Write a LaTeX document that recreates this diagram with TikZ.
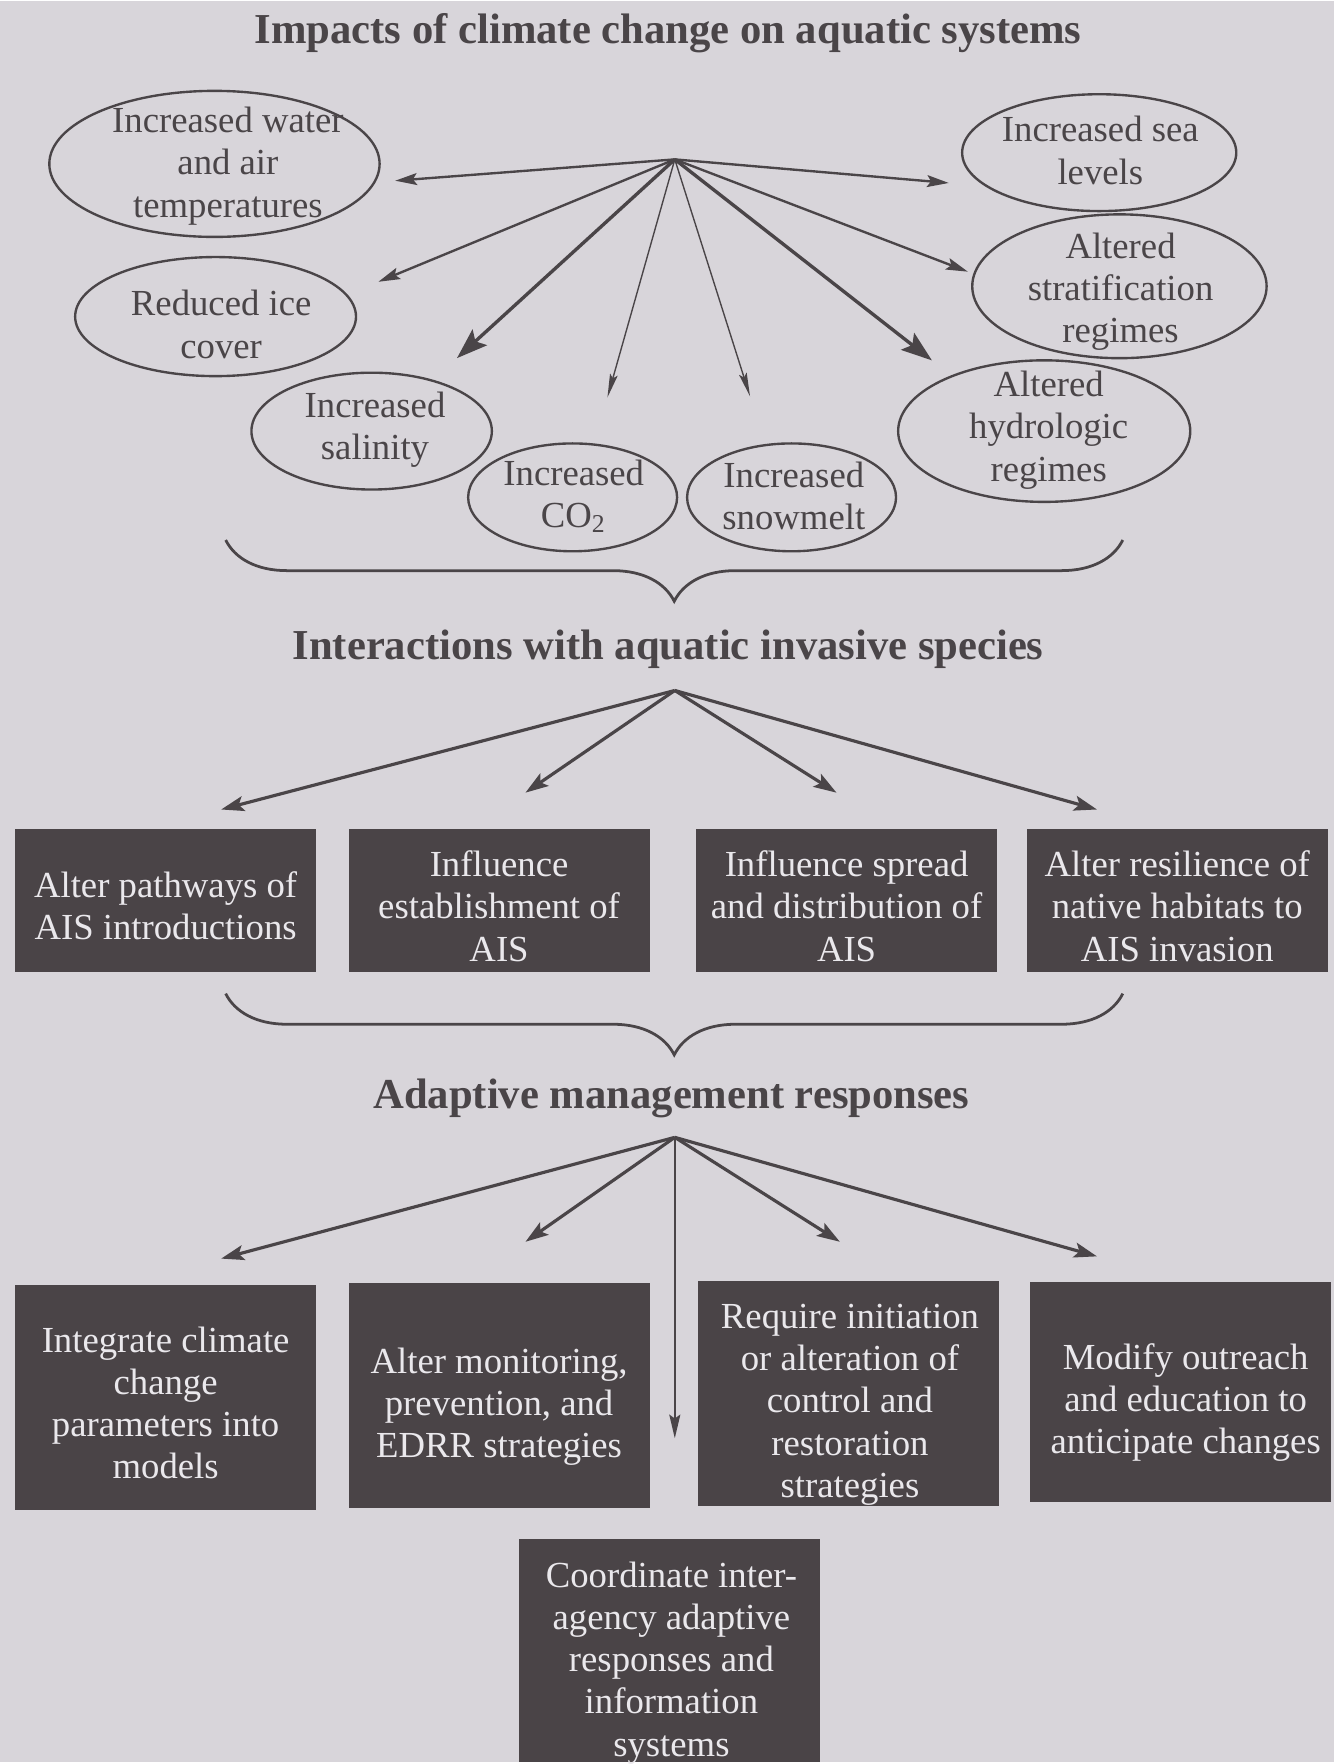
\documentclass[tikz,border=0pt]{standalone}
\usepackage{fontspec}
\setmainfont{Liberation Serif}
\usetikzlibrary{arrows.meta,shapes.geometric,decorations.pathreplacing}

\definecolor{paper}{HTML}{D8D5DA}
\definecolor{ink}{HTML}{4A4548}
\definecolor{boxfill}{HTML}{4A4447}
\definecolor{boxtext}{HTML}{EAE8EC}

\tikzset{
  heading/.style={anchor=base,text=ink,font=\fontsize{10.8}{13}\selectfont\bfseries},
  impact/.style={align=center,text=ink,inner sep=0pt,font=\fontsize{9.3}{10.7}\selectfont},
  bubble/.style={ellipse,draw=ink,line width=0.6pt,inner sep=0pt},
  effect/.style={fill=boxfill,inner sep=0pt,minimum width=2.68cm},
  effecttext/.style={align=center,text=boxtext,inner sep=0pt,font=\fontsize{9.3}{10.7}\selectfont},
  fatarrow/.style={draw=ink,line width=0.85pt,-{Stealth[length=7.8pt,width=5.4pt,inset=1.5pt]}},
  midarrow/.style={draw=ink,line width=0.6pt,-{Stealth[length=5.5pt,width=3pt,inset=1pt]}},
  thinarrow/.style={draw=ink,line width=0.35pt,-{Stealth[length=6pt,width=2pt,inset=1pt]}},
  fanarrow/.style={draw=ink,line width=0.8pt,-{Stealth[length=5.8pt,width=3.8pt,inset=1.2pt]}},
  bracket/.style={draw=ink,line width=0.7pt,decorate,decoration={brace,amplitude=0.545cm}}
}

\begin{document}
\begin{tikzpicture}[x=0.01cm,y=-0.01cm]
  \fill[paper] (0,0) rectangle (1188,1568);

  % impacts
  \node[heading] (impacts) at (595,37.5) {Impacts of climate change on aquatic systems};

  \node[bubble,minimum width=2.94cm,minimum height=1.30cm] (tempE)  at (191,145) {};
  \node[bubble,minimum width=2.50cm,minimum height=1.06cm] (iceE)   at (192,281) {};
  \node[bubble,minimum width=2.14cm,minimum height=1.04cm] (salE)   at (331,383) {};
  \node[bubble,minimum width=1.86cm,minimum height=0.96cm] (coE)    at (510,442) {};
  \node[bubble,minimum width=1.86cm,minimum height=0.96cm] (snowE)  at (705,442) {};
  \node[bubble,minimum width=2.60cm,minimum height=1.26cm] (hydroE) at (930,383) {};
  \node[bubble,minimum width=2.62cm,minimum height=1.28cm] (stratE) at (997,254) {};
  \node[bubble,minimum width=2.44cm,minimum height=1.04cm] (seaE)   at (979,135) {};

  \node[impact] (temp)  at (203,147) {Increased water\\and air\\temperatures};
  \node[impact] (ice)   at (197,288) {Reduced ice\\cover};
  \node[impact] (sal)   at (334,382) {Increased\\salinity};
  \node[impact] (co)    at (511,441) {Increased\\CO\textsubscript{2}};
  \node[impact] (snow)  at (707,441) {Increased\\snowmelt};
  \node[impact] (hydro) at (934,382) {Altered\\hydrologic\\regimes};
  \node[impact] (strat) at (998,259) {Altered\\stratification\\regimes};
  \node[impact] (sea)   at (980,133) {Increased sea\\levels};

  \coordinate (hubA)   at (601,141);
  \coordinate (toTemp) at (352,160);
  \coordinate (toSea)  at (845,162);
  \coordinate (toIce)  at (337,250);
  \coordinate (toStrat) at (862,241);
  \coordinate (toSal)  at (407,318);
  \coordinate (toCo)   at (541,353);
  \coordinate (toSnow) at (668,352);
  \coordinate (toHydro) at (830,320);

  \draw[midarrow]  (hubA) -- (toTemp);
  \draw[midarrow]  (hubA) -- (toSea);
  \draw[midarrow]  (hubA) -- (toIce);
  \draw[midarrow]  (hubA) -- (toStrat);
  \draw[fatarrow]  (hubA) -- (toSal);
  \draw[thinarrow] (hubA) -- (toCo);
  \draw[thinarrow] (hubA) -- (toSnow);
  \draw[fatarrow]  (hubA) -- (toHydro);

  \coordinate (braceAr) at (1000,480);
  \coordinate (braceAl) at (201,480);
  \draw[bracket] (braceAr) -- (braceAl);

  % interactions
  \node[heading] (interact) at (595,586) {Interactions with aquatic invasive species};

  \node[effect,minimum height=1.27cm] (pathBox)   at (147.5,801)  {};
  \node[effect,minimum height=1.27cm] (estabBox)  at (444.5,801)  {};
  \node[effect,minimum height=1.27cm] (spreadBox) at (754,801)    {};
  \node[effect,minimum height=1.27cm] (resilBox)  at (1048.5,801) {};

  \node[effecttext] (path)   at (147.5,806)  {Alter pathways of\\AIS introductions};
  \node[effecttext] (estab)  at (444.5,806)  {Influence\\establishment of\\AIS};
  \node[effecttext] (spread) at (754,806)    {Influence spread\\and distribution of\\AIS};
  \node[effecttext] (resil)  at (1048.5,806) {Alter resilience of\\native habitats to\\AIS invasion};

  \coordinate (hubB)    at (601,614);
  \coordinate (toPath)  at (197,720);
  \coordinate (toEstab) at (468,705);
  \coordinate (toSpread) at (745,705);
  \coordinate (toResil) at (977,720);

  \draw[fanarrow] (hubB) -- (toPath);
  \draw[fanarrow] (hubB) -- (toEstab);
  \draw[fanarrow] (hubB) -- (toSpread);
  \draw[fanarrow] (hubB) -- (toResil);

  \coordinate (braceBr) at (1000,884);
  \coordinate (braceBl) at (201,884);
  \draw[bracket] (braceBr) -- (braceBl);

  % responses
  \node[heading] (adapt) at (598,986) {Adaptive management responses};

  \node[effect,minimum height=2.0cm]  (modelsBox)   at (147.5,1243.5) {};
  \node[effect,minimum height=2.0cm]  (monitorBox)  at (444.5,1242)   {};
  \node[effect,minimum height=2.0cm]  (controlBox)  at (755.5,1240)   {};
  \node[effect,minimum height=1.96cm] (outreachBox) at (1051.5,1238.5) {};
  \node[effect,minimum height=1.98cm] (agencyBox)   at (596,1469)     {};

  \node[effecttext] (models)   at (147.5,1248.5) {Integrate climate\\change\\parameters into\\models};
  \node[effecttext] (monitor)  at (444.5,1252)   {Alter monitoring,\\prevention, and\\EDRR strategies};
  \node[effecttext] (control)  at (757,1250)     {Require initiation\\or alteration of\\control and\\restoration\\strategies};
  \node[effecttext] (outreach) at (1056,1248)    {Modify outreach\\and education to\\anticipate changes};
  \node[effecttext] (agency)   at (598,1480)     {Coordinate inter-\\agency adaptive\\responses and\\information\\systems};

  \coordinate (hubC)       at (601,1012);
  \coordinate (toModels)   at (197,1120);
  \coordinate (toMonitor)  at (468,1105);
  \coordinate (toAgency)   at (601,1280);
  \coordinate (toControl)  at (748,1105);
  \coordinate (toOutreach) at (977,1118);

  \draw[fanarrow]  (hubC) -- (toModels);
  \draw[fanarrow]  (hubC) -- (toMonitor);
  \draw[draw=ink,line width=0.45pt,-{Stealth[length=6pt,width=2.8pt,inset=1pt]}] (hubC) -- (toAgency);
  \draw[fanarrow]  (hubC) -- (toControl);
  \draw[fanarrow]  (hubC) -- (toOutreach);
\end{tikzpicture}
\end{document}
